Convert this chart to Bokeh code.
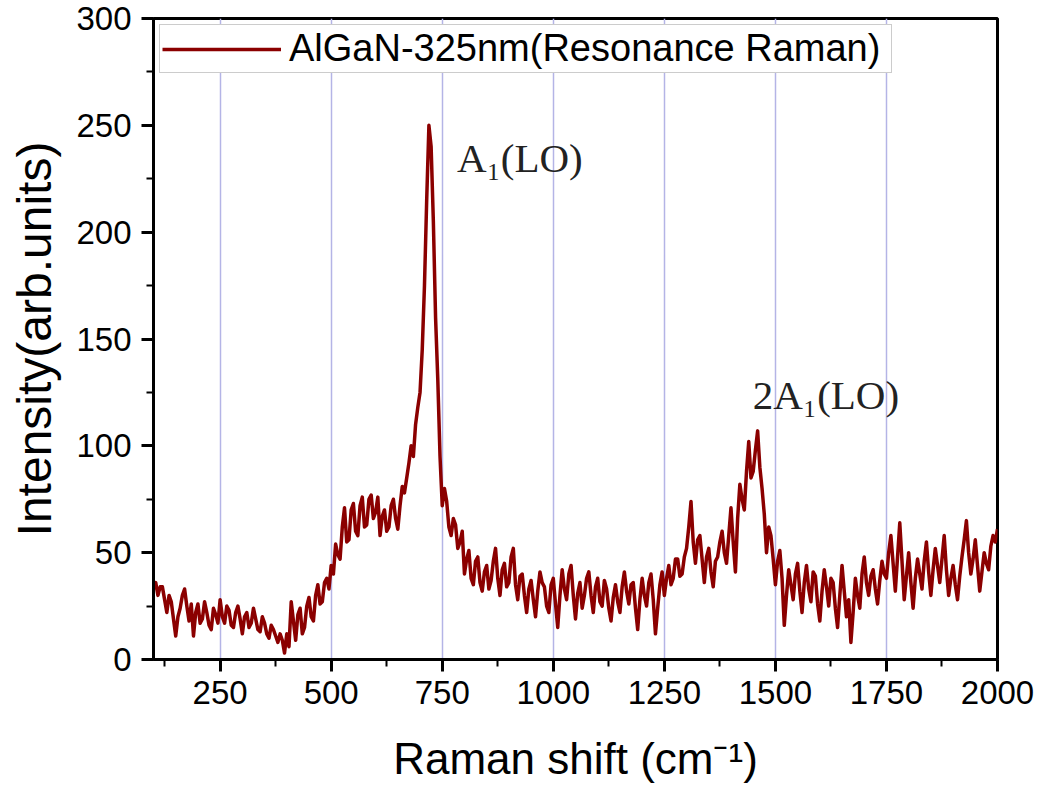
from bokeh.plotting import figure
from bokeh.models import (FixedTicker, Range1d, Legend, LegendItem, ColumnDataSource)
from bokeh.core.properties import value
from bokeh.embed import file_html
from bokeh.resources import INLINE

# ---------------- data ----------------
raman_shift = list(range(100, 2001, 5))
intensity = [
    33, 36, 30, 34, 34, 28, 22, 30, 27, 19,      # 100-145
    11, 20, 24, 30, 33, 25, 18, 26, 11, 22,      # 150-195
    26, 17, 19, 27, 22, 16, 14, 24, 21, 17,      # 200-245
    28, 20, 17, 25, 23, 16, 15, 22, 25, 19,      # 250-295
    12, 20, 22, 15, 17, 24, 19, 14, 13, 20,      # 300-345
    17, 12, 10, 16, 14, 11, 8, 12, 9, 3,         # 350-395
    12, 6, 27, 18, 9, 21, 24, 12, 15, 25,        # 400-445
    29, 20, 18, 30, 35, 26, 27, 36, 38, 33,      # 450-495
    44, 40, 54, 49, 47, 62, 71, 55, 56, 70,      # 500-545
    73, 60, 58, 72, 76, 62, 63, 75, 77, 66,      # 550-595
    69, 76, 58, 67, 70, 60, 62, 72, 75, 66,      # 600-645
    61, 72, 81, 78, 85, 92, 100, 95, 110, 118,   # 650-695
    125, 145, 175, 215, 250, 240, 205, 160, 131, 95,  # 700-745
    72, 80, 74, 62, 58, 66, 63, 52, 55, 60,      # 750-795
    40, 47, 51, 38, 35, 46, 48, 36, 32, 41,      # 800-845
    44, 33, 37, 46, 52, 38, 30, 42, 45, 34,      # 850-895
    36, 48, 52, 35, 28, 39, 40, 30, 22, 33,      # 900-945
    37, 28, 20, 32, 41, 36, 34, 25, 22, 35,      # 950-995
    38, 26, 15, 30, 42, 33, 28, 40, 44, 30,      # 1000-1045
    19, 31, 36, 24, 30, 38, 41, 30, 22, 34,      # 1050-1095
    38, 27, 25, 37, 33, 24, 18, 29, 35, 27,      # 1100-1145
    22, 34, 41, 32, 26, 35, 36, 24, 14, 28,      # 1150-1195
    38, 30, 25, 36, 40, 28, 12, 24, 35, 41,      # 1200-1245
    30, 38, 44, 35, 38, 47, 47, 39, 40, 48,      # 1250-1295
    52, 62, 74, 55, 45, 56, 58, 47, 36, 48,      # 1300-1345
    52, 41, 34, 46, 48, 55, 60, 50, 45, 58,      # 1350-1395
    71, 55, 41, 66, 82, 75, 70, 88, 102, 85,     # 1400-1445
    88, 98, 107, 90, 80, 68, 50, 62, 58, 47,     # 1450-1495
    35, 46, 51, 38, 16, 30, 42, 35, 28, 40,      # 1500-1545
    45, 32, 22, 36, 44, 33, 27, 41, 39, 26,      # 1550-1595
    18, 32, 42, 34, 25, 38, 36, 24, 15, 30,      # 1600-1645
    44, 32, 20, 28, 8, 22, 38, 30, 24, 40,       # 1650-1695
    48, 36, 30, 39, 42, 33, 26, 37, 46, 40,      # 1700-1745
    38, 50, 58, 45, 32, 48, 64, 46, 28, 39,      # 1750-1795
    50, 36, 24, 38, 47, 40, 33, 46, 55, 41,      # 1800-1845
    30, 42, 52, 44, 36, 47, 58, 42, 30, 38,      # 1850-1895
    44, 35, 28, 39, 48, 56, 65, 50, 40, 47,      # 1900-1945
    56, 44, 32, 41, 50, 45, 42, 53, 58, 55,      # 1950-1995
    61,                                          # 2000
]
x_major_ticks = [250, 500, 750, 1000, 1250, 1500, 1750, 2000]
x_minor_ticks = [125, 375, 625, 875, 1125, 1375, 1625, 1875]
y_major_ticks = [0, 50, 100, 150, 200, 250, 300]
y_minor_ticks = [25, 75, 125, 175, 225, 275]
series_label = "AlGaN-325nm(Resonance Raman)"
peak_labels = ["A\u2081(LO)", "2A\u2081(LO)"]
peak_label_x = [783, 1449]
peak_label_y = [234.5, 124]

src = ColumnDataSource(data=dict(x=raman_shift, y=intensity))

p = figure(width=1040, height=785, output_backend="svg", toolbar_location=None,
           x_range=Range1d(100, 2000), y_range=Range1d(0, 300),
           min_border_left=153, min_border_right=43, min_border_top=18,
           min_border_bottom=123, background_fill_color="white")

p.outline_line_color = "black"
p.outline_line_width = 3

# grid
p.xgrid.ticker = FixedTicker(ticks=x_major_ticks)
p.xgrid.grid_line_color = "#b4b4e6"
p.xgrid.grid_line_width = 1.5
p.ygrid.grid_line_color = None

# axes
p.xaxis.ticker = FixedTicker(ticks=x_major_ticks, minor_ticks=x_minor_ticks)
p.yaxis.ticker = FixedTicker(ticks=y_major_ticks, minor_ticks=y_minor_ticks)
for ax in (p.xaxis[0], p.yaxis[0]):
    ax.axis_line_width = 3
    ax.axis_line_color = "black"
    ax.major_tick_line_width = 3
    ax.major_tick_line_color = "black"
    ax.minor_tick_line_width = 2
    ax.minor_tick_line_color = "black"
    ax.major_tick_out = 12
    ax.major_tick_in = 0
    ax.minor_tick_out = 7
    ax.minor_tick_in = 0
    ax.major_label_text_font = "Liberation Sans"
    ax.major_label_text_font_size = "33px"
    ax.major_label_text_color = "black"
    ax.axis_label_text_font = "Liberation Sans"
    ax.axis_label_text_font_style = "normal"
    ax.axis_label_text_color = "black"

p.xaxis.major_label_standoff = 9
p.yaxis.major_label_standoff = 10
p.xaxis.axis_label = "Raman shift (cm\u207b\u00b9)"
p.xaxis.axis_label_text_font_size = "44px"
p.xaxis.axis_label_standoff = 27
p.yaxis.axis_label = "Intensity(arb.units)"
p.yaxis.axis_label_text_font_size = "48px"
p.yaxis.axis_label_standoff = 12

r = p.line("x", "y", source=src, line_color="#8b0000", line_width=3.5,
           line_join="round")

# peak annotations
p.text(x=peak_label_x, y=peak_label_y, text=peak_labels,
       text_font=value("Liberation Serif"), text_font_size=value("41px"),
       text_color="#222222", text_align="left", text_baseline="alphabetic")

legend = Legend(items=[LegendItem(label=series_label, renderers=[r])],
                location="top_left", margin=6, padding=2,
                glyph_width=119, glyph_height=20, label_standoff=8,
                label_width=600, label_height=34,
                label_text_font="Liberation Sans", label_text_font_size="38px",
                label_text_color="black",
                border_line_color="#999999", border_line_width=1.5,
                background_fill_color="white", background_fill_alpha=1)
p.add_layout(legend)

open("out.html", "w").write(file_html(p, INLINE))
